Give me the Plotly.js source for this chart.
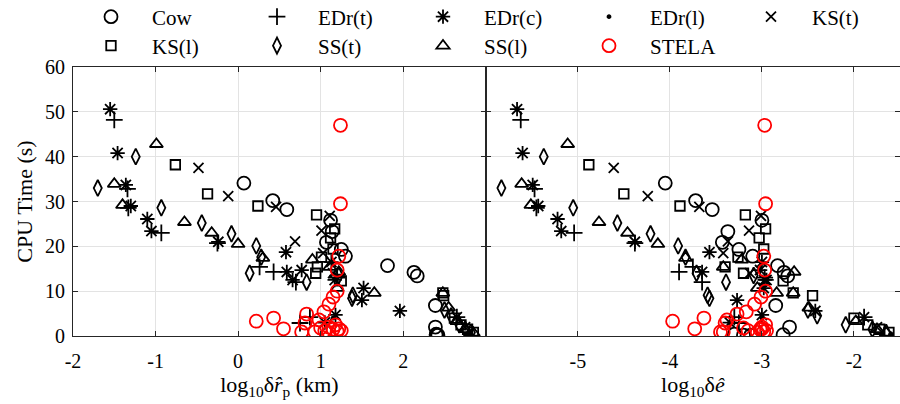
<!DOCTYPE html>
<html><head><meta charset="utf-8">
<script src="https://cdn.plot.ly/plotly-3.0.1.min.js"></script>
<style>html,body{margin:0;padding:0;background:#fff}#chart{width:900px;height:404px}</style>
</head><body><div id="chart"></div>
<script>
// ---- data: CPU time (s), log10 delta r_p (km), log10 delta e ----
const cowCpu = [34.1, 30.2, 28.2, 25.8, 23.3, 20.9, 19.3, 17.8, 15.7, 14.2, 13.4, 6.8, 2.0, 0.4, 0.2, 0.2, 0.3];
const cowRp  = [0.07, 0.42, 0.59, 1.12, 1.14, 1.07, 1.25, 1.30, 1.81, 2.13, 2.17, 2.39, 2.39, 2.40, 2.41, 2.42, 2.40];
const cowE   = [-4.05, -3.72, -3.54, -3.00, -3.37, -3.43, -3.25, -3.10, -2.83, -2.76, -2.72, -2.85, -2.70, -3.30, -3.20, -3.12, -2.77];

const edrtCpu = [48.2, 32.8, 28.6, 23.0, 20.7, 15.4, 14.3, 12.0, 4.2, 2.9, 4.2, 13.0];
const edrtRp  = [-1.50, -1.34, -1.33, -0.93, -0.25, 0.26, 0.43, 0.70, 0.87, 0.75, 2.65, 1.20];
const edrtE   = [-5.62, -5.47, -5.45, -5.04, -4.38, -3.75, -3.90, -3.65, -3.30, -3.25, -1.89, -2.97];

const edrcCpu = [50.6, 40.8, 33.7, 29.0, 26.1, 23.4, 21.0, 18.7, 16.5, 14.7, 14.3, 12.5, 12.5, 10.7, 8.0, 5.6, 4.7, 3.0];
const edrcRp  = [-1.55, -1.46, -1.36, -1.30, -1.10, -1.05, -0.24, 0.58, 1.13, 0.77, 0.59, 0.66, 1.17, 1.52, 1.50, 1.96, 1.18, 1.05];
const edrcE   = [-5.66, -5.60, -5.49, -5.43, -5.22, -5.18, -4.38, -3.57, -3.00, -3.02, -3.65, -2.95, -2.97, -2.98, -3.27, -2.42, -3.00, -3.35];

const edrlCpu = [13.0, 4.0, 0.5];
const edrlRp  = [1.20, 1.15, 2.80];
const edrlE   = [-2.95, -3.00, -1.60];

const kstCpu = [37.5, 31.2, 28.8, 26.8, 23.5, 21.1, 18.5, 14.0, 4.2, 2.0];
const kstRp  = [-0.48, -0.12, 0.46, 1.11, 1.01, 0.69, 1.03, 1.15, 2.65, 2.75];
const kstE   = [-4.61, -4.24, -3.68, -3.01, -3.14, -3.37, -3.42, -3.13, -1.89, -1.75];

const kslCpu = [38.2, 31.7, 29.0, 27.0, 23.9, 21.9, 19.4, 17.6, 15.4, 14.0, 12.3, 9.6, 9.0, 4.0, 2.5, 1.5, 0.8];
const kslRp  = [-0.76, -0.37, 0.24, 0.95, 1.17, 1.12, 1.15, 1.01, 0.96, 0.94, 1.25, 2.48, 2.49, 2.62, 2.70, 2.78, 2.85];
const kslE   = [-4.88, -4.50, -3.89, -3.18, -2.96, -3.03, -2.98, -3.26, -3.40, -3.20, -2.77, -2.66, -2.45, -2.00, -1.85, -1.72, -1.62];

const sstCpu = [40.0, 33.0, 28.6, 25.2, 22.8, 20.1, 17.6, 14.0, 13.5, 12.0, 9.1, 8.4, 5.8, 4.5, 2.5, 1.5, 0.8];
const sstRp  = [-1.24, -1.70, -0.93, -0.44, -0.08, 0.22, 0.28, 0.14, 1.22, 0.83, 1.39, 1.38, 2.50, 2.58, 2.68, 2.75, 2.82];
const sstE   = [-5.37, -5.83, -5.05, -4.57, -4.21, -3.91, -3.83, -3.71, -3.09, -3.39, -3.59, -3.57, -2.50, -2.40, -2.09, -1.80, -1.65];

const sslCpu = [42.8, 33.9, 29.2, 25.4, 23.0, 20.5, 17.4, 17.0, 15.4, 14.3, 10.7, 9.6, 9.6, 6.3, 3.3, 1.5, 0.7];
const sslRp  = [-0.99, -1.50, -1.40, -0.65, -0.32, 0.00, 0.30, 0.90, 1.11, 1.22, 1.20, 1.65, 2.48, 2.55, 2.65, 2.75, 2.85];
const sslE   = [-5.11, -5.61, -5.51, -4.77, -4.46, -4.13, -3.83, -3.22, -3.42, -2.65, -3.05, -2.84, -2.66, -2.49, -1.98, -1.75, -1.65];

const stelaCpu = [47.0, 29.5, 17.8, 14.7, 10.0, 8.7, 7.1, 5.4, 4.9, 3.6, 3.3, 4.0, 1.6, 0.9, 2.9, 0.9, 1.8, 1.2, 2.0, 1.5, 1.0, 2.5, 1.2, 0.8, 1.6];
const stelaRp  = [1.24, 1.24, 1.22, 1.20, 1.20, 1.15, 1.10, 1.04, 0.83, 0.98, 0.22, 0.43, 0.55, 0.77, 0.81, 0.93, 1.00, 1.05, 1.10, 1.15, 1.20, 1.18, 1.25, 1.10, 1.22];
const stelaE   = [-2.97, -2.96, -2.98, -2.97, -2.96, -3.01, -3.08, -3.17, -3.27, -3.38, -3.97, -3.63, -3.73, -3.45, -3.40, -3.42, -3.20, -3.15, -3.00, -3.02, -2.98, -2.96, -2.95, -3.05, -3.00];

const xTicksL = [-2, -1, 0, 1, 2];
const xTickTextL = ['-2', '-1', '0', '1', '2'];
const xTicksR = [-5, -4, -3, -2];
const xTickTextR = ['-5', '-4', '-3', '-2'];
const yTicks = [0, 10, 20, 30, 40, 50, 60];
const yTickText = ['0', '10', '20', '30', '40', '50', '60'];

// ---- styling ----
const FONT = 'Liberation Serif, Times New Roman, serif';
const BLACK = '#000000';
const RED = '#ff0000';
const series = [
  {name: 'Cow',    cpu: cowCpu,   rp: cowRp,   e: cowE,   sym: 'circle-open',        size: 13,   color: BLACK, leg: 'legend'},
  {name: 'EDr(t)', cpu: edrtCpu,  rp: edrtRp,  e: edrtE,  sym: 'cross-thin-open',    size: 12,   color: BLACK, leg: 'legend'},
  {name: 'EDr(c)', cpu: edrcCpu,  rp: edrcRp,  e: edrcE,  sym: 'asterisk-open',      size: 12,   color: BLACK, leg: 'legend'},
  {name: 'EDr(l)', cpu: edrlCpu,  rp: edrlRp,  e: edrlE,  sym: 'circle',             size: 3,    color: BLACK, leg: 'legend'},
  {name: 'KS(t)',  cpu: kstCpu,   rp: kstRp,   e: kstE,   sym: 'x-thin-open',        size: 10,   color: BLACK, leg: 'legend3'},
  {name: 'KS(l)',  cpu: kslCpu,   rp: kslRp,   e: kslE,   sym: 'square-open',        size: 9.5,  color: BLACK, leg: 'legend2'},
  {name: 'SS(t)',  cpu: sstCpu,   rp: sstRp,   e: sstE,   sym: 'diamond-tall-open',  size: 11.5, color: BLACK, leg: 'legend2'},
  {name: 'SS(l)',  cpu: sslCpu,   rp: sslRp,   e: sslE,   sym: 'triangle-up-open',   size: 11.5, color: BLACK, leg: 'legend2'},
  {name: 'STELA',  cpu: stelaCpu, rp: stelaRp, e: stelaE, sym: 'circle-open',        size: 13,   color: RED,   leg: 'legend2'}
];

const traces = [];
series.forEach(s => {
  const marker = {symbol: s.sym, size: s.size, color: s.color, line: {color: s.color, width: 1.8}};
  traces.push({type: 'scatter', mode: 'markers', name: s.name, x: s.rp, y: s.cpu, xaxis: 'x', yaxis: 'y',
    marker: marker, legend: s.leg, legendgroup: s.name, showlegend: true, hoverinfo: 'skip'});
  traces.push({type: 'scatter', mode: 'markers', name: s.name, x: s.e, y: s.cpu, xaxis: 'x2', yaxis: 'y2',
    marker: marker, legend: s.leg, legendgroup: s.name, showlegend: false, hoverinfo: 'skip'});
});

const GRID = '#e3e3e3';
const AXC = '#262626';
const TICKFONT = {family: FONT, size: 20, color: '#000'};
const TITLEFONT = {family: FONT, size: 22, color: '#000'};
const axisCommon = {
  showline: true, linecolor: AXC, linewidth: 1, mirror: 'ticks',
  ticks: 'inside', ticklen: 5, tickwidth: 1, tickcolor: AXC,
  showgrid: true, gridcolor: GRID, gridwidth: 1, zeroline: false,
  tickfont: TICKFONT, tickmode: 'array'
};
const legendCommon = {
  orientation: 'h', xref: 'container', yref: 'container', xanchor: 'left', yanchor: 'middle',
  x: 70 / 900, bgcolor: 'rgba(0,0,0,0)', borderwidth: 0,
  itemwidth: 72, entrywidth: 79, entrywidthmode: 'pixels',
  font: {family: FONT, size: 21, color: '#000'}
};

const layout = {
  width: 900, height: 404,
  margin: {l: 73, r: 0, t: 67, b: 68, autoexpand: false},
  paper_bgcolor: '#fff', plot_bgcolor: '#fff',
  showlegend: true,
  legend: Object.assign({}, legendCommon, {y: 1 - 17 / 404}),
  legend3: Object.assign({}, legendCommon, {x: 730 / 900, y: 1 - 17 / 404}),
  legend2: Object.assign({}, legendCommon, {y: 1 - 46 / 404}),
  xaxis: Object.assign({}, axisCommon, {domain: [0, 0.4991], range: [-2, 3], tickvals: xTicksL, ticktext: xTickTextL,
    anchor: 'y', ticklabelstandoff: 7,
    title: {text: 'log<sub>10</sub>δ<i>r&#770;</i><sub>p</sub> (km)', font: TITLEFONT, standoff: 4}}),
  xaxis2: Object.assign({}, axisCommon, {domain: [0.4991, 1], range: [-6, -1.5], tickvals: xTicksR, ticktext: xTickTextR,
    anchor: 'y2', ticklabelstandoff: 7,
    title: {text: 'log<sub>10</sub>δ<i>e&#770;</i>', font: TITLEFONT, standoff: 4}}),
  yaxis: Object.assign({}, axisCommon, {range: [0, 60], tickvals: yTicks, ticktext: yTickText, anchor: 'x',
    ticklabelstandoff: 3,
    title: {text: 'CPU Time (s)', font: TITLEFONT, standoff: 6}}),
  yaxis2: Object.assign({}, axisCommon, {range: [0, 60], tickvals: yTicks, anchor: 'x2', matches: 'y',
    showticklabels: false})
};

Plotly.newPlot('chart', traces, layout, {displayModeBar: false, staticPlot: true});
</script>
</body></html>
